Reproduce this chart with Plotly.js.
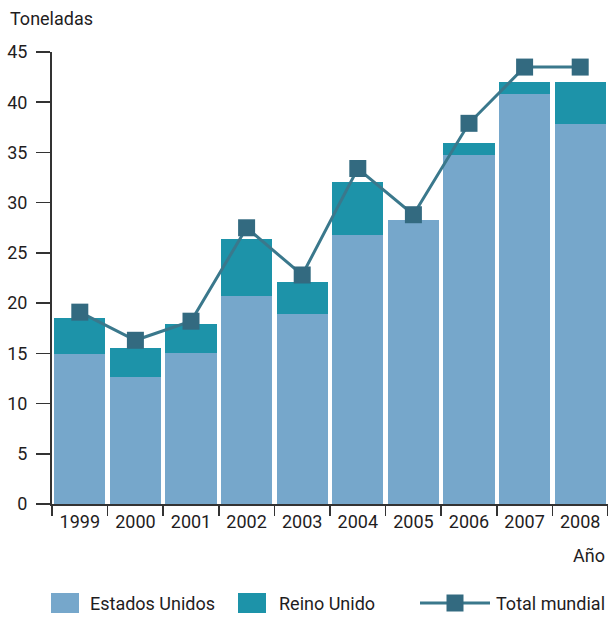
<!DOCTYPE html>
<html>
<head>
<meta charset="utf-8">
<script src="https://cdn.plot.ly/plotly-3.0.1.min.js"></script>
<style>html,body{margin:0;padding:0;background:#fff;}#chart{width:608px;height:617px;}</style>
</head>
<body>
<div id="chart"></div>
<script>
const years = ['1999','2000','2001','2002','2003','2004','2005','2006','2007','2008'];
const estadosUnidos = [14.9, 12.6, 15.0, 20.7, 18.9, 26.8, 28.3, 34.7, 40.8, 37.8];
const reinoUnido = [3.6, 2.9, 2.9, 5.7, 3.2, 5.3, 0, 1.2, 1.2, 4.2];
const totalMundial = [19.1, 16.3, 18.2, 27.5, 22.8, 33.4, 28.8, 37.9, 43.5, 43.5];
const yTicks = [0, 5, 10, 15, 20, 25, 30, 35, 40, 45];

const FONT = 'Roboto, "Liberation Sans", sans-serif';
const FS = 18;
const TXT = '#1f1d1e';
const cUS = '#76a7cb', cUK = '#1d93a9', cLine = '#3a788c', cMark = '#336a80';

const traces = [
  {type:'bar', name:'Estados Unidos', x:years, y:estadosUnidos, marker:{color:cUS}, hoverinfo:'y'},
  {type:'bar', name:'Reino Unido', x:years, y:reinoUnido, marker:{color:cUK}, hoverinfo:'y'},
  {type:'scatter', mode:'lines+markers', name:'Total mundial', x:years, y:totalMundial,
   line:{color:cLine, width:3}, marker:{symbol:'square', size:17, color:cMark}, cliponaxis:false}
];

const L = 52, T = 52, B = 113, W = 608, H = 617;
const pw = W - L, ph = H - T - B;
const px = v => (v - L) / pw;
const py = v => (H - B - v) / ph;

const legendItems = [
  {label:'Estados Unidos', sw:[51,79], tx:88, color:cUS},
  {label:'Reino Unido', sw:[238,266], tx:277, color:cUK}
];
const shapes = [];
const annotations = [];
legendItems.forEach(it => {
  shapes.push({type:'rect', xref:'paper', yref:'paper', x0:px(it.sw[0]), x1:px(it.sw[1]), y0:py(613), y1:py(593),
    fillcolor:it.color, line:{width:0}});
  annotations.push({xref:'paper', yref:'paper', x:px(it.tx), y:py(603), xanchor:'left', yanchor:'middle',
    text:it.label, showarrow:false, font:{family:FONT, size:FS, color:TXT}});
});
shapes.push({type:'line', xref:'paper', yref:'paper', x0:px(420), x1:px(490), y0:py(603), y1:py(603),
  line:{color:cLine, width:3}});
shapes.push({type:'rect', xref:'paper', yref:'paper', x0:px(446.5), x1:px(463.5), y0:py(611.5), y1:py(594.5),
  fillcolor:cMark, line:{width:0}});
annotations.push({xref:'paper', yref:'paper', x:px(607), y:py(603), xanchor:'right', yanchor:'middle',
  text:'Total mundial', showarrow:false, font:{family:FONT, size:FS, color:TXT}});
annotations.push({xref:'paper', yref:'paper', x:px(8), y:py(18), xanchor:'left', yanchor:'middle',
  text:'Toneladas', showarrow:false, font:{family:FONT, size:FS, color:TXT}});
annotations.push({xref:'paper', yref:'paper', x:px(607), y:py(555), xanchor:'right', yanchor:'middle',
  text:'Año', showarrow:false, font:{family:FONT, size:FS, color:TXT}});

const layout = {
  width: W, height: H,
  margin:{l:L, r:0, t:T, b:B, pad:0},
  paper_bgcolor:'#fff', plot_bgcolor:'#fff',
  barmode:'stack', bargap:0.08,
  showlegend:false,
  font:{family:FONT, size:FS, color:TXT},
  xaxis:{type:'category', range:[-0.5, years.length - 0.5], tickson:'boundaries', ticks:'outside', ticklen:10, tickwidth:1.5, tickcolor:'#333',
    tickangle:0, automargin:false,
    showline:true, linecolor:'#333', linewidth:2, showgrid:false, zeroline:false,
    tickfont:{family:FONT, size:FS, color:TXT}, fixedrange:true},
  yaxis:{range:[0,45], tickvals:yTicks, ticktext:yTicks.map(String), ticks:'outside', ticklen:14, tickwidth:1.5, tickcolor:'#333',
    automargin:false, ticklabelstandoff:5,
    showline:true, linecolor:'#333', linewidth:2, showgrid:false, zeroline:false,
    tickfont:{family:FONT, size:FS, color:TXT}, fixedrange:true},
  shapes: shapes,
  annotations: annotations
};

Plotly.newPlot('chart', traces, layout, {displayModeBar:false, staticPlot:true});
</script>
</body>
</html>
